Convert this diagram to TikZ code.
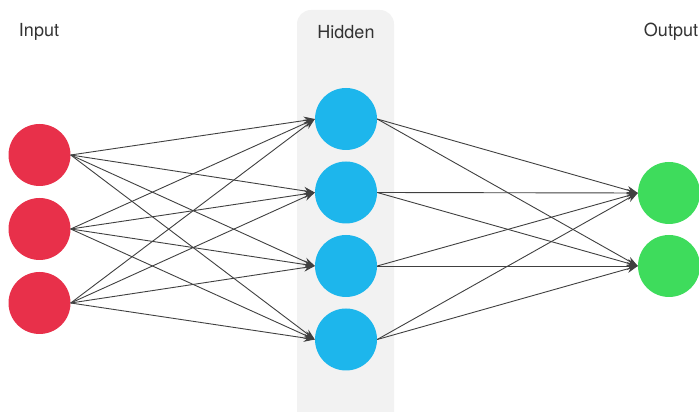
\documentclass[tikz,border=0pt]{standalone}
\usepackage{fontspec}
\setmainfont{TeX Gyre Heros}
\usetikzlibrary{arrows.meta}
\definecolor{inred}{HTML}{E8304A}
\definecolor{hidblue}{HTML}{1DB6EC}
\definecolor{outgreen}{HTML}{3EDC5C}
\definecolor{panel}{HTML}{F2F2F2}
\begin{document}
\begin{tikzpicture}[x=1pt,y=1pt,
  neuron/.style={circle,minimum size=62pt,inner sep=0pt,draw=none},
  innode/.style={neuron,fill=inred},
  hidnode/.style={neuron,fill=hidblue},
  outnode/.style={neuron,fill=outgreen},
  lab/.style={font=\fontsize{18}{21}\selectfont,text=black!80,inner sep=0pt},
  conn/.style={draw=black!75,line width=0.9pt,-{Stealth[length=11pt,width=8pt]}}]
\useasboundingbox (0,0) rectangle (699,412);
\fill[panel,rounded corners=14pt] (297,-20) rectangle (394,402);
\node[lab] (tin) at (39,380) {Input};
\node[lab] (thid) at (346,380) {Hidden};
\node[lab] (tout) at (671,380) {Output};
\node[innode] (i1) at (39.5,257) {};
\node[innode] (i2) at (39.5,183) {};
\node[innode] (i3) at (39.5,109) {};
\node[hidnode] (h1) at (346,293) {};
\node[hidnode] (h2) at (346,219.5) {};
\node[hidnode] (h3) at (346,146) {};
\node[hidnode] (h4) at (346,72.5) {};
\node[outnode] (o1) at (669,219) {};
\node[outnode] (o2) at (669,146) {};
\foreach \i in {1,2,3}{
  \foreach \h in {1,2,3,4}{
    \draw[conn] (i\i.east) -- (h\h.west);
  }
}
\foreach \h in {1,2,3,4}{
  \foreach \o in {1,2}{
    \draw[conn] (h\h.east) -- (o\o.west);
  }
}
\end{tikzpicture}
\end{document}
